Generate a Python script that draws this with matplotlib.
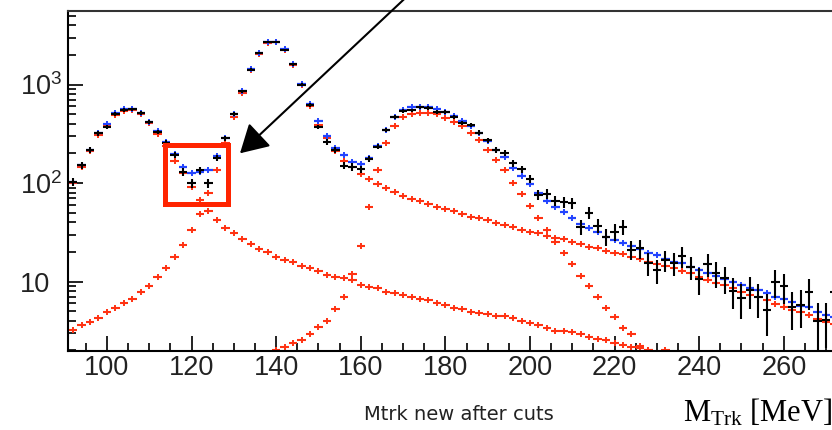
import numpy as np
import matplotlib
matplotlib.use("Agg")
import matplotlib.pyplot as plt
from matplotlib.patches import Rectangle
from matplotlib.ticker import MultipleLocator, LogLocator, NullFormatter

plt.rcParams['font.family'] = 'Liberation Sans'

# 2 MeV bins, centres 92 ... 272
bin_centres = np.arange(92, 273, 2)
half_width = 1.0
nan = np.nan

# data (black)
data_counts = [103, 152, 216, 320, 373, 502, 551, 560, 510, 419,
               331, 255, 192, 130, 100, 135, 100, 180, 285, 500,
               850, 1420, 2080, 2700, 2720, 2260, 1600, 1000, 620, 373,
               262, 216, 150, 146, 138, 175, 234, 345, 471, 540,
               545, 588, 575, 530, 530, 465, 405, 388, 325, 271,
               215, 200, 160, 138, 110, 76, 78, 66, 64, 62,
               36, 50, 37, 28.6, 32, 36, 21, 21.7, 15.5, 13.1,
               16.6, 15.5, 18, 14, 10.5, 15, 12.1, 10.8, 8, 6.8,
               8.2, 6.9, 5.1, 10, 8.9, 5.5, 5.8, 7.9, 4.0, 4.1,
               7.9]
data_errors = [10, 12, 15, 18, 19, 22, 23, 24, 23, 20,
               18, 16, 14, 11, 10, 12, 10, 13, 17, 22,
               29, 38, 46, 52, 52, 48, 40, 32, 25, 19,
               16, 15, 12, 12, 12, 13, 15, 19, 22, 23,
               23, 24, 24, 23, 23, 22, 20, 20, 18, 16,
               15, 14, 13, 12, 11, 9, 9, 8, 8, 8,
               6, 7, 6, 5.5, 6, 6, 4.6, 4.7, 4, 3.6,
               4, 4, 4.2, 3.7, 3.2, 3.9, 3.5, 3.3, 2.8, 2.6,
               2.9, 2.6, 2.3, 3.2, 3, 2.3, 2.4, 2.8, 2.0, 2.0,
               2.8]

# total fit (blue)
fit_total = [103, 152, 216, 325, 395, 510, 560, 570, 515, 420,
             335, 258, 195, 146, 125, 128, 135, 189, 288, 502,
             860, 1435, 2100, 2700, 2720, 2275, 1615, 1010, 630, 427,
             300, 228, 191, 163, 156, 178, 240, 347, 470, 545,
             585, 590, 590, 565, 530, 478, 425, 380, 320, 265,
             218, 182, 141, 117, 97, 80, 66, 57, 51, 44,
             38.4, 35, 32, 28.6, 26.4, 24.8, 22.8, 21.2, 19.6, 18.6,
             16.8, 15.9, 15.3, 14.1, 13.1, 12.3, 11.5, 10.6, 10.0, 9.2,
             8.5, 8.2, 7.6, 7.0, 6.6, 6.2, 5.7, 5.5, 4.9, 4.6,
             4.4]

# fit components (red)
comp_two_body = [99, 147, 210, 310, 378, 490, 540, 550, 500, 405,
                 318, 240, 168, 125, 92, 67, 80, 135, 255, 464,
                 820, 1400, 2050, 2650, 2680, 2250, 1590, 990, 610, 388,
                 286, 210, 168, 145, 123, 109, 98, 88, 82, 74,
                 69, 66, 61, 57, 55, 51.5, 49, 45.6, 43.8, 42,
                 39, 37.5, 36, 33.3, 32, 30.8, 29, 27.5, 27, 25.4,
                 24, 22.5, 21.7, 20.6, 19.6, 19, 17.9, 16.8, 15.9, 15,
                 14.4, 13.6, 12.8, 12.1, 11.1, 10.3, 9.6, 9.2, 8.5, 7.9,
                 7.3, 7.0, 6.5, 5.9, 5.5, 5.1, 4.9, 4.6, 4.2, 3.9,
                 3.7]
comp_low_peak = [3.2, 3.6, 3.9, 4.3, 4.9, 5.4, 6.0, 6.6, 7.9, 9.1,
                 11, 13.6, 17.6, 23.5, 33, 49, 52, 42, 35, 31,
                 27, 24, 21.4, 19.8, 17.8, 16.7, 15.9, 14.5, 13.7, 12.8,
                 11.6, 11.2, 10.8, 10.3, 9.2, 8.8, 8.5, 7.9, 7.6, 7.3,
                 7.0, 6.6, 6.5, 6.0, 5.8, 5.4, 5.2, 4.9, 4.8, 4.7,
                 4.5, 4.5, 4.3, 4.0, 3.8, 3.6, 3.4, 3.15, 3.15, 3.1,
                 2.9, 2.75, 2.6, 2.55, 2.4, 2.25, 2.15, 2.1, 2.0, 1.9,
                 1.85, nan, nan, nan, nan, nan, nan, nan, nan, nan,
                 nan, nan, nan, nan, nan, nan, nan, nan, nan, nan,
                 nan]
comp_high_peak = [nan, nan, nan, nan, nan, nan, nan, nan, nan, nan,
                  nan, nan, nan, nan, nan, nan, nan, nan, nan, nan,
                  nan, nan, nan, 1.8, 2.0, 2.15, 2.35, 2.55, 2.96, 3.45,
                  4.0, 5.2, 7.0, 12, 23, 57, 135, 253, 379, 464,
                  505, 515, 515, 500, 454, 420, 379, 324, 273, 216,
                  170, 136, 101, 77, 59, 44, 33, 25, 19.5, 15,
                  11.3, 9.0, 7.0, 5.4, 4.4, 3.4, 2.9, 2.2, 2.0, 1.85,
                  2.0, 1.75, 1.9, nan, nan, nan, nan, nan, nan, nan,
                  nan, nan, nan, nan, nan, nan, nan, nan, nan, nan,
                  nan]
components = [comp_two_body, comp_low_peak, comp_high_peak]

xtick_vals = [100, 120, 140, 160, 180, 200, 220, 240, 260]
ytick_vals = [10, 100, 1000]
ytick_text = ['10', r'$\mathregular{10^{2}}$', r'$\mathregular{10^{3}}$']

RED = '#ff3212'
BLUE = '#2243ff'

fig = plt.figure(figsize=(8.32, 4.30), dpi=100)
ax = fig.add_axes([68 / 832, 1 - 351 / 430, 800.4 / 832, 340 / 430])
ax.set_yscale('log')
ax.set_xlim(90.8, 280)
ax.set_ylim(1.97, 5580)

# components first, then the total, data on top
for comp in components:
    ax.errorbar(bin_centres, comp, xerr=half_width, fmt='|', ms=5, mew=1.4,
                color=RED, ecolor=RED, elinewidth=1.5, capsize=0, zorder=2)
ax.errorbar(bin_centres, fit_total, xerr=half_width, fmt='|', ms=4.5, mew=1.4,
            color=BLUE, ecolor=BLUE, elinewidth=1.6, capsize=0, zorder=3)
ax.errorbar(bin_centres, data_counts, xerr=half_width, yerr=data_errors,
            fmt='none', ecolor='black', elinewidth=1.5, capsize=0, zorder=4)

# frame: right side runs off the page
ax.spines['right'].set_visible(False)
ax.spines['top'].set_color('#333333')
for side in ['left', 'bottom', 'top']:
    ax.spines[side].set_linewidth(1.5)

ax.set_xticks(xtick_vals)
ax.xaxis.set_minor_locator(MultipleLocator(5))
ax.set_yticks(ytick_vals, labels=ytick_text)
ax.yaxis.set_minor_locator(LogLocator(base=10, subs=np.arange(2, 10)))
ax.yaxis.set_minor_formatter(NullFormatter())

ax.tick_params(which='both', direction='in', top=False, right=False,
               width=1.4, color='#222222')
ax.tick_params(which='major', length=10.8)
ax.tick_params(which='minor', length=5.8)
ax.tick_params(axis='x', pad=3, labelsize=19.5, labelcolor='#222222')
ax.tick_params(axis='y', pad=34.5, labelsize=19.5, labelcolor='#222222')
for lab in ax.get_yticklabels():
    lab.set_horizontalalignment('left')

# highlighted region around the dip
ax.add_patch(Rectangle((113.66, 61), 128.65 - 113.66, 242 - 61, fill=False,
                       ec='#ff2400', lw=3.6, joinstyle='miter', zorder=6))
ax.annotate('', xy=(240 / 832, 276.7 / 430), xytext=(416 / 832, 442 / 430),
            xycoords='figure fraction', textcoords='figure fraction',
            annotation_clip=False,
            arrowprops=dict(arrowstyle='-|>,head_length=1.73,head_width=0.99',
                            mutation_scale=10, lw=1.5, color='black',
                            shrinkA=0, shrinkB=0))

fig.text(459 / 832, 1 - 415 / 430, 'Mtrk new after cuts', family='DejaVu Sans',
         fontsize=14, color='#222222', ha='center', va='center')
fig.text(683 / 832, 1 - 422 / 430, r'$\mathregular{M_{Trk}}$ [MeV]',
         family='Liberation Serif', fontsize=22, color='black',
         ha='left', va='baseline')

fig.savefig('out.png', dpi=100)
